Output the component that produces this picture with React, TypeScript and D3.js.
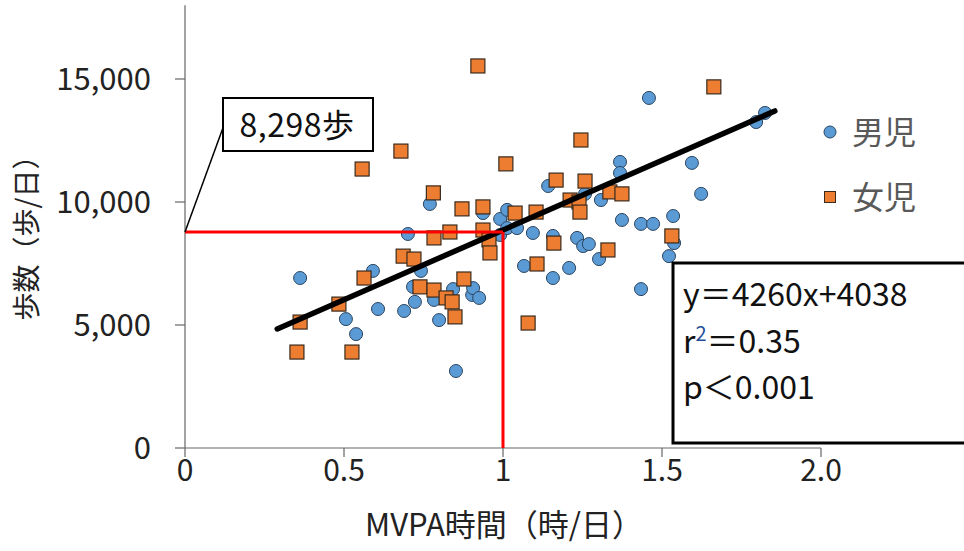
import React from 'react';
import * as d3 from 'd3';

// 男児 (boys) - MVPA hours / steps
const boysX = [0.362, 0.506, 0.538, 0.591, 0.607, 0.689, 0.701, 0.717, 0.723, 0.742, 0.770, 0.783, 0.799, 0.843, 0.852, 0.903, 0.906, 0.925, 0.937, 0.991, 0.991, 1.013, 1.013, 1.044, 1.066, 1.094, 1.142, 1.157, 1.157, 1.208, 1.233, 1.252, 1.270, 1.258, 1.302, 1.308, 1.368, 1.368, 1.374, 1.434, 1.434, 1.459, 1.472, 1.522, 1.535, 1.538, 1.594, 1.623, 1.796, 1.824];
const boysY = [6910, 5240, 4630, 7200, 5650, 5570, 8700, 6550, 5940, 7200, 9920, 6020, 5200, 6460, 3130, 6220, 6500, 6100, 9550, 9310, 8660, 9680, 8940, 8940, 7400, 8740, 10650, 8620, 6910, 7320, 8540, 8210, 8290, 10330, 7680, 10080, 11630, 11180, 9270, 9110, 6460, 14230, 9110, 7800, 9430, 8330, 11590, 10330, 13250, 13620];

// 女児 (girls)
const girlsX = [0.352, 0.362, 0.484, 0.525, 0.557, 0.563, 0.679, 0.686, 0.720, 0.739, 0.781, 0.783, 0.783, 0.821, 0.833, 0.840, 0.849, 0.871, 0.877, 0.921, 0.937, 0.937, 0.956, 0.959, 1.009, 1.038, 1.104, 1.079, 1.107, 1.160, 1.167, 1.211, 1.239, 1.242, 1.245, 1.258, 1.330, 1.336, 1.374, 1.531, 1.663];
const girlsY = [3900, 5120, 5850, 3900, 11340, 6910, 12070, 7800, 7680, 6550, 10370, 8540, 6420, 6100, 8780, 5940, 5330, 9720, 6870, 15530, 9800, 8860, 8460, 7930, 11550, 9550, 9590, 5080, 7480, 8330, 10890, 10080, 10000, 9590, 12520, 10850, 8050, 10410, 10330, 8620, 14680];

const trendX = [0.29, 1.855];
const trendY = [4840, 13700];

const refX = 1.0;
const refY = 8780;
const refLabel = '8,298歩';

const xTicks = [0, 0.5, 1, 1.5, 2.0];
const xTickLabels = ['0', '0.5', '1', '1.5', '2.0'];
const yTicks = [0, 5000, 10000, 15000];

const seriesNames = ['男児', '女児'];

const W = 964;
const H = 551;
const font = '"Noto Sans CJK JP", "Noto Sans", sans-serif';

export default function App() {
  const x = d3.scaleLinear().domain([0, 2]).range([185, 821]);
  const y = d3.scaleLinear().domain([0, 15000]).range([448, 79]);
  const fmt = d3.format(',');

  const boys = boysX.map((v, i) => ({ x: v, y: boysY[i] }));
  const girls = girlsX.map((v, i) => ({ x: v, y: girlsY[i] }));
  const line = d3.line<number>().x((d) => x(d)).y((_, i) => y(trendY[i]));

  return (
    <svg width={W} height={H} style={{ position: 'absolute', left: 0, top: 0, background: '#fff' }} fontFamily={font}>
      {/* axes */}
      <line x1={x(0)} x2={x(0)} y1={y(18000)} y2={y(0)} stroke="#666" strokeWidth={1.2} />
      <line x1={x(0)} x2={x(2)} y1={y(0)} y2={y(0)} stroke="#666" strokeWidth={1.2} />
      {yTicks.map((t) => (
        <g key={t}>
          <line x1={x(0) - 10} x2={x(0)} y1={y(t)} y2={y(t)} stroke="#666" strokeWidth={1.2} />
          <text x={151} y={y(t)} dy="0.35em" textAnchor="end" fontSize={31} fill="#222">{fmt(t)}</text>
        </g>
      ))}
      {xTicks.map((t, i) => (
        <g key={t}>
          <line x1={x(t)} x2={x(t)} y1={y(0)} y2={y(0) + 9} stroke="#666" strokeWidth={1.2} />
          <text x={x(t)} y={y(0) + 22} dy="0.35em" textAnchor="middle" fontSize={30} fill="#222">{xTickLabels[i]}</text>
        </g>
      ))}
      <text x={504} y={536} textAnchor="middle" fontSize={31} fill="#222">MVPA時間（時/日）</text>
      <text transform="translate(37,231) rotate(-90)" textAnchor="middle" fontSize={28} fill="#222">歩数（歩/日）</text>

      {/* points */}
      {boys.map((d, i) => (
        <circle key={'b' + i} cx={x(d.x)} cy={y(d.y)} r={6.5} fill="#5B9BD5" stroke="#2B4460" strokeWidth={1} />
      ))}
      {girls.map((d, i) => (
        <rect key={'g' + i} x={x(d.x) - 7} y={y(d.y) - 7} width={14} height={14} fill="#ED7D31" stroke="#3A2A1C" strokeWidth={1.2} />
      ))}

      {/* trend line */}
      <path d={line(trendX) || ''} stroke="#000" strokeWidth={5.5} fill="none" strokeLinecap="round" />

      {/* reference lines */}
      <line x1={x(0)} x2={x(refX)} y1={y(refY)} y2={y(refY)} stroke="#FF0000" strokeWidth={3} />
      <line x1={x(refX)} x2={x(refX)} y1={y(refY)} y2={y(0)} stroke="#FF0000" strokeWidth={3} />

      {/* callout */}
      <line x1={x(0)} y1={y(refY)} x2={224} y2={125} stroke="#000" strokeWidth={1.5} />
      <rect x={223} y={98} width={150} height={53} fill="#fff" stroke="#000" strokeWidth={2} />
      <text x={297} y={137} textAnchor="middle" fontSize={32} letterSpacing={0.5} fill="#111">{refLabel}</text>

      {/* legend */}
      <circle cx={830} cy={132} r={6} fill="#5B9BD5" stroke="#2B4460" strokeWidth={1} />
      <text x={852} y={132} dy="0.36em" fontSize={32} fill="#595959">{seriesNames[0]}</text>
      <rect x={824.5} y={191.5} width={11} height={11} fill="#ED7D31" stroke="#3A2A1C" strokeWidth={1} />
      <text x={852} y={197} dy="0.36em" fontSize={32} fill="#595959">{seriesNames[1]}</text>

      {/* stats box */}
      <rect x={673} y={263} width={320} height={180} fill="#fff" stroke="#000" strokeWidth={3} />
      <text x={683} y={306} fontSize={32} fill="#111">y＝4260x+4038</text>
      <text x={683} y={353} fontSize={32} fill="#111">
        r<tspan fontSize={20} dy={-12} fill="#1F4E99">2</tspan><tspan dy={12}>＝0.35</tspan>
      </text>
      <text x={683} y={399} fontSize={32} fill="#111">p＜0.001</text>
    </svg>
  );
}
